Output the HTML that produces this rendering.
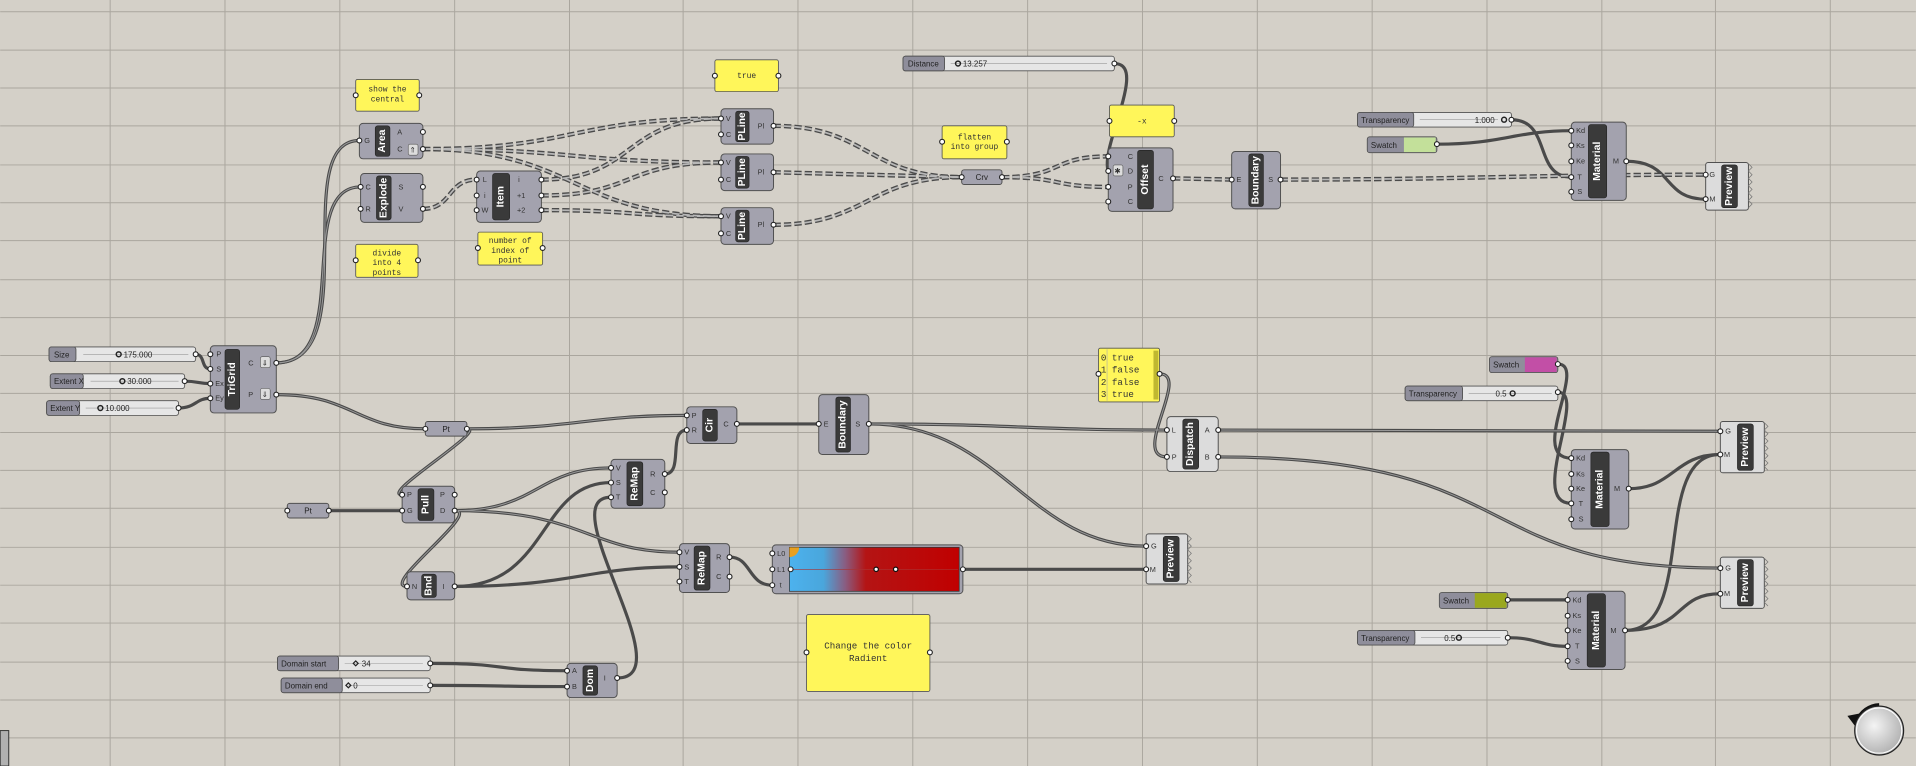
<!DOCTYPE html>
<html><head><meta charset="utf-8"><style>
html,body{margin:0;padding:0;background:#d4d0c8;overflow:hidden}
svg{display:block}
.c{fill:#a3a2ae;stroke:#505050;stroke-width:.8}
.l{fill:#dcdcdc;stroke:#505050;stroke-width:.8}
.b{fill:#3a3a3a;stroke:#222;stroke-width:.5}
.n{font-family:"Liberation Sans",sans-serif;font-weight:bold;font-size:8.5px;fill:#fff}
.p{font-family:"Liberation Sans",sans-serif;font-size:6px;fill:#333}
.s{font-family:"Liberation Sans",sans-serif;font-size:6.5px;fill:#222}
.m{font-family:"Liberation Mono",monospace;font-size:6.5px;fill:#333}
.y{fill:#fff65a;stroke:#555;stroke-width:.7}
.pt{fill:#fff;stroke:#222;stroke-width:.9}
.w{fill:none;stroke:#4a4a4a;stroke-width:2.6}
.wi{fill:none;stroke:#9a9a9a;stroke-width:.8}
.d{fill:none;stroke:#4a4a4a;stroke-width:3.6;stroke-dasharray:6 2.5}
.di{fill:none;stroke:#b8b8b8;stroke-width:1.4;stroke-dasharray:6 2.5}
.sl{fill:#8f8e9b;stroke:#505050;stroke-width:.7}
.sb{fill:#e6e6e6;stroke:#505050;stroke-width:.7}
.g{stroke:#aaa69e;stroke-width:.8}
</style></head><body>
<svg width="1916" height="766" viewBox="0 0 1568 627" xmlns="http://www.w3.org/2000/svg">
<defs>
<linearGradient id="gr" x1="0" x2="1" y1="0" y2="0">
<stop offset="0" stop-color="#4cb2ee"/><stop offset=".2" stop-color="#4aa6dc"/><stop offset=".33" stop-color="#8a5c80"/><stop offset=".45" stop-color="#b41414"/><stop offset="1" stop-color="#c00000"/>
</linearGradient>
<radialGradient id="nv" cx=".4" cy=".4" r=".7"><stop offset="0" stop-color="#f4f4f4"/><stop offset="1" stop-color="#a8a8a8"/></radialGradient>
<path id="w1" d="M160,290 C168,290 164,302 172,302"/>
<path id="w2" d="M151,312 C162,312 162,314 172,314"/>
<path id="w3" d="M146,334 C160,334 160,326 172,326"/>
<path id="w4" d="M226,297 C300,297 235,115 294,115"/>
<path id="w5" d="M226,297 C290,297 240,153 295,153"/>
<path id="w6" d="M226,323 C290,323 290,351 348,351"/>
<path id="w7" d="M382,351 C470,351 480,340 562,340"/>
<path id="w8" d="M382,351 C400,351 310,405 329,405"/>
<path id="w9" d="M269,418 L329,418"/>
<path id="w10" d="M372,418 C440,418 440,383 500,383"/>
<path id="w11" d="M372,418 C480,418 480,452 556,452"/>
<path id="w12" d="M372,418 C395,418 310,480 333,480"/>
<path id="w13" d="M372,480 C450,480 440,395 500,395"/>
<path id="w14" d="M372,480 C470,480 480,464 556,464"/>
<path id="w15" d="M544,388 C560,388 546,352 562,352"/>
<path id="w16" d="M505,555 C560,555 450,407 500,407"/>
<path id="w17" d="M352,543 C420,543 400,549 464,549"/>
<path id="w18" d="M352,561 C420,561 400,562 464,562"/>
<path id="w19" d="M597,456 C615,456 612,479 632,479"/>
<path id="w20" d="M603,347 L670,347"/>
<path id="w21" d="M711,347 C830,347 840,352 955,352"/>
<path id="w22" d="M711,347 C820,347 840,447 938,447"/>
<path id="w23" d="M788,466 L938,466"/>
<path id="w24" d="M949,306 C975,306 925,374 955,374"/>
<path id="w25" d="M997,352 L1408,353"/>
<path id="w26" d="M997,374 C1250,374 1200,465 1408,465"/>
<path id="w27" d="M1275,298 C1300,298 1250,375 1286,375"/>
<path id="w28" d="M1275,321 C1300,321 1250,412 1286,412"/>
<path id="w29" d="M1333,400 C1370,400 1370,372 1408,372"/>
<path id="w30" d="M1234,491 L1283,491"/>
<path id="w31" d="M1234,522 C1260,522 1260,529 1283,529"/>
<path id="w32" d="M1330,516 C1380,516 1370,486 1408,486"/>
<path id="w33" d="M1330,516 C1390,516 1350,372 1408,372"/>
<path id="w34" d="M1237,98 C1270,98 1255,145 1286,145"/>
<path id="w35" d="M1176,118 C1230,118 1240,107 1286,107"/>
<path id="w36" d="M1331,132 C1370,132 1360,163 1396,163"/>
<path id="w37" d="M912,52 C940,52 900,120 907,140"/>
<path id="d1" d="M346,122 C470,122 470,97 590,97"/>
<path id="d2" d="M346,122 C470,122 470,133 590,133"/>
<path id="d3" d="M346,122 C470,122 470,177 590,177"/>
<path id="d4" d="M346,171 C370,171 366,147 390,147"/>
<path id="d5" d="M443,147 C520,147 510,97 590,97"/>
<path id="d6" d="M443,160 C520,160 510,133 590,133"/>
<path id="d7" d="M443,172 C520,172 510,177 590,177"/>
<path id="d8" d="M633,103 C710,103 710,145 787,145"/>
<path id="d9" d="M633,141 L787,145"/>
<path id="d10" d="M633,184 C710,184 710,145 787,145"/>
<path id="d11" d="M820,145 C870,145 860,128 907,128"/>
<path id="d12" d="M820,145 C870,145 860,153 907,153"/>
<path id="d13" d="M960,146 L1008,147"/>
<path id="d14" d="M1048,147 C1200,147 1250,143 1396,143"/>
</defs>
<rect width="1568" height="627" fill="#d4d0c8"/>
<g class="g">
<line x1="90" y1="0" x2="90" y2="627"/><line x1="184" y1="0" x2="184" y2="627"/><line x1="278" y1="0" x2="278" y2="627"/><line x1="372" y1="0" x2="372" y2="627"/><line x1="466" y1="0" x2="466" y2="627"/><line x1="559" y1="0" x2="559" y2="627"/><line x1="653" y1="0" x2="653" y2="627"/><line x1="747" y1="0" x2="747" y2="627"/><line x1="841" y1="0" x2="841" y2="627"/><line x1="935" y1="0" x2="935" y2="627"/><line x1="1029" y1="0" x2="1029" y2="627"/><line x1="1123" y1="0" x2="1123" y2="627"/><line x1="1217" y1="0" x2="1217" y2="627"/><line x1="1311" y1="0" x2="1311" y2="627"/><line x1="1404" y1="0" x2="1404" y2="627"/><line x1="1498" y1="0" x2="1498" y2="627"/>
<line x1="0" y1="9.6" x2="1568" y2="9.6"/><line x1="0" y1="41" x2="1568" y2="41"/><line x1="0" y1="72" x2="1568" y2="72"/><line x1="0" y1="103" x2="1568" y2="103"/><line x1="0" y1="135" x2="1568" y2="135"/><line x1="0" y1="166" x2="1568" y2="166"/><line x1="0" y1="197" x2="1568" y2="197"/><line x1="0" y1="229" x2="1568" y2="229"/><line x1="0" y1="260" x2="1568" y2="260"/><line x1="0" y1="291" x2="1568" y2="291"/><line x1="0" y1="322" x2="1568" y2="322"/><line x1="0" y1="354" x2="1568" y2="354"/><line x1="0" y1="385" x2="1568" y2="385"/><line x1="0" y1="416" x2="1568" y2="416"/><line x1="0" y1="448" x2="1568" y2="448"/><line x1="0" y1="479" x2="1568" y2="479"/><line x1="0" y1="510" x2="1568" y2="510"/><line x1="0" y1="542" x2="1568" y2="542"/><line x1="0" y1="573" x2="1568" y2="573"/><line x1="0" y1="604" x2="1568" y2="604"/>
</g>

<g class="w"><use href="#w1"/><use href="#w2"/><use href="#w3"/><use href="#w4"/><use href="#w5"/><use href="#w6"/><use href="#w7"/><use href="#w8"/><use href="#w9"/><use href="#w10"/><use href="#w11"/><use href="#w12"/><use href="#w13"/><use href="#w14"/><use href="#w15"/><use href="#w16"/><use href="#w17"/><use href="#w18"/><use href="#w19"/><use href="#w20"/><use href="#w21"/><use href="#w22"/><use href="#w23"/><use href="#w24"/><use href="#w25"/><use href="#w26"/><use href="#w27"/><use href="#w28"/><use href="#w29"/><use href="#w30"/><use href="#w31"/><use href="#w32"/><use href="#w33"/><use href="#w34"/><use href="#w35"/><use href="#w36"/><use href="#w37"/></g>
<g class="wi"><use href="#w4"/><use href="#w5"/><use href="#w6"/><use href="#w7"/><use href="#w8"/><use href="#w10"/><use href="#w11"/><use href="#w12"/><use href="#w21"/><use href="#w22"/><use href="#w24"/><use href="#w25"/><use href="#w26"/></g>
<g class="d"><use href="#d1"/><use href="#d2"/><use href="#d3"/><use href="#d4"/><use href="#d5"/><use href="#d6"/><use href="#d7"/><use href="#d8"/><use href="#d9"/><use href="#d10"/><use href="#d11"/><use href="#d12"/><use href="#d13"/><use href="#d14"/></g>
<g class="di"><use href="#d1"/><use href="#d2"/><use href="#d3"/><use href="#d4"/><use href="#d5"/><use href="#d6"/><use href="#d7"/><use href="#d8"/><use href="#d9"/><use href="#d10"/><use href="#d11"/><use href="#d12"/><use href="#d13"/><use href="#d14"/></g>

<!-- sliders -->
<g>
<rect class="sb" x="40" y="284" width="120" height="12" rx="2"/><rect class="sl" x="40" y="284" width="22" height="12" rx="2"/><text class="s" x="44" y="292.5">Size</text>
<line x1="68" y1="290" x2="154" y2="290" stroke="#999" stroke-width=".5"/><circle cx="97" cy="290" r="2" fill="none" stroke="#222" stroke-width="1.2"/><text class="s" x="101" y="292.5">175.000</text>
<rect class="sb" x="41" y="306" width="110" height="12" rx="2"/><rect class="sl" x="41" y="306" width="27" height="12" rx="2"/><text class="s" x="44" y="314.5">Extent X</text>
<line x1="74" y1="312" x2="146" y2="312" stroke="#999" stroke-width=".5"/><circle cx="100" cy="312" r="2" fill="none" stroke="#222" stroke-width="1.2"/><text class="s" x="104" y="314.5">30.000</text>
<rect class="sb" x="38" y="328" width="108" height="12" rx="2"/><rect class="sl" x="38" y="328" width="27" height="12" rx="2"/><text class="s" x="41" y="336.5">Extent Y</text>
<line x1="70" y1="334" x2="142" y2="334" stroke="#999" stroke-width=".5"/><circle cx="82" cy="334" r="2" fill="none" stroke="#222" stroke-width="1.2"/><text class="s" x="86" y="336.5">10.000</text>

<rect class="sb" x="739" y="46" width="173" height="12" rx="2"/><rect class="sl" x="739" y="46" width="34" height="12" rx="2"/><text class="s" x="743" y="54.5">Distance</text>
<line x1="778" y1="52" x2="906" y2="52" stroke="#999" stroke-width=".5"/><circle cx="784" cy="52" r="2" fill="none" stroke="#222" stroke-width="1.2"/><text class="s" x="788" y="54.5">13.257</text>

<rect class="sb" x="1111" y="92" width="126" height="12" rx="2"/><rect class="sl" x="1111" y="92" width="46" height="12" rx="2"/><text class="s" x="1114" y="100.5">Transparency</text>
<line x1="1162" y1="98" x2="1226" y2="98" stroke="#999" stroke-width=".5"/><text class="s" x="1207" y="100.5">1.000</text><circle cx="1231" cy="98" r="2" fill="none" stroke="#222" stroke-width="1.2"/>

<rect class="sb" x="1150" y="316" width="125" height="12" rx="2"/><rect class="sl" x="1150" y="316" width="47" height="12" rx="2"/><text class="s" x="1153" y="324.5">Transparency</text>
<line x1="1202" y1="322" x2="1270" y2="322" stroke="#999" stroke-width=".5"/><text class="s" x="1224" y="324.5">0.5</text><circle cx="1238" cy="322" r="2" fill="none" stroke="#222" stroke-width="1.2"/>

<rect class="sb" x="1111" y="516" width="123" height="12" rx="2"/><rect class="sl" x="1111" y="516" width="47" height="12" rx="2"/><text class="s" x="1114" y="524.5">Transparency</text>
<line x1="1163" y1="522" x2="1228" y2="522" stroke="#999" stroke-width=".5"/><text class="s" x="1182" y="524.5">0.5</text><circle cx="1194" cy="522" r="2" fill="none" stroke="#222" stroke-width="1.2"/>

<rect class="sb" x="227" y="537" width="125" height="12" rx="2"/><rect class="sl" x="227" y="537" width="50" height="12" rx="2"/><text class="s" x="230" y="545.5">Domain start</text>
<line x1="282" y1="543" x2="346" y2="543" stroke="#999" stroke-width=".5"/><path d="M291,541 L293,543 L291,545 L289,543Z" fill="none" stroke="#222"/><text class="s" x="296" y="545.5">34</text>
<rect class="sb" x="230" y="555" width="122" height="12" rx="2"/><rect class="sl" x="230" y="555" width="50" height="12" rx="2"/><text class="s" x="233" y="563.5">Domain end</text>
<line x1="285" y1="561" x2="346" y2="561" stroke="#999" stroke-width=".5"/><path d="M285,559 L287,561 L285,563 L283,561Z" fill="none" stroke="#222"/><text class="s" x="289" y="563.5">0</text>

<rect class="sl" x="1119" y="112" width="57" height="13" rx="2"/><rect x="1149" y="112.5" width="26" height="12" fill="#c3e09a"/><text class="s" x="1122" y="121">Swatch</text>
<rect class="sl" x="1219" y="292" width="56" height="13" rx="2"/><rect x="1248" y="292.5" width="26" height="12" fill="#c24fa6"/><text class="s" x="1222" y="301">Swatch</text>
<rect class="sl" x="1178" y="485" width="56" height="13" rx="2"/><rect x="1207" y="485.5" width="26" height="12" fill="#9aa81e"/><text class="s" x="1181" y="494">Swatch</text>
</g>

<!-- notes -->
<g>
<rect class="y" x="291" y="65" width="52" height="26" rx="1.5"/><text class="m" text-anchor="middle" x="317" y="75">show the</text><text class="m" text-anchor="middle" x="317" y="83">central</text>
<rect class="y" x="291" y="200" width="51" height="27" rx="1.5"/><text class="m" text-anchor="middle" x="316.5" y="209">divide</text><text class="m" text-anchor="middle" x="316.5" y="217">into 4</text><text class="m" text-anchor="middle" x="316.5" y="225">points</text>
<rect class="y" x="391" y="190" width="53" height="27" rx="1.5"/><text class="m" text-anchor="middle" x="417.5" y="199">number of</text><text class="m" text-anchor="middle" x="417.5" y="207">index of</text><text class="m" text-anchor="middle" x="417.5" y="215">point</text>
<rect class="y" x="585" y="49" width="52" height="26" rx="1.5"/><text class="m" text-anchor="middle" x="611" y="64">true</text>
<rect class="y" x="771" y="103" width="53" height="27" rx="1.5"/><text class="m" text-anchor="middle" x="797.5" y="114">flatten</text><text class="m" text-anchor="middle" x="797.5" y="122">into group</text>
<rect class="y" x="908" y="86" width="53" height="26" rx="1.5"/><text class="m" text-anchor="middle" x="934.5" y="101">-x</text>
<rect class="y" x="660" y="503" width="101" height="63" rx="1.5"/><text class="m" style="font-size:7.5px" text-anchor="middle" x="710.5" y="531">Change the color</text><text class="m" style="font-size:7.5px" text-anchor="middle" x="710.5" y="541">Radient</text>
<rect class="y" x="899" y="285" width="50" height="44" rx="1.5"/><rect x="944" y="287" width="4" height="40" fill="#c0b830"/><line x1="906" y1="286" x2="906" y2="328" stroke="#aaa" stroke-width=".5"/>
<text class="m" style="font-size:7.5px" x="901" y="295">0 true</text><text class="m" style="font-size:7.5px" x="901" y="305">1 false</text><text class="m" style="font-size:7.5px" x="901" y="315">2 false</text><text class="m" style="font-size:7.5px" x="901" y="325">3 true</text>
</g>

<g>
<rect class="c" x="787" y="139" width="33" height="12" rx="2"/><text class="s" x="803.5" y="147.5" text-anchor="middle">Crv</text>
<rect class="c" x="348" y="345" width="34" height="12" rx="2"/><text class="s" x="365" y="353.5" text-anchor="middle">Pt</text>
<rect class="c" x="235" y="412" width="34" height="12" rx="2"/><text class="s" x="252" y="420.5" text-anchor="middle">Pt</text>
</g>

<g>
<rect class="c" x="172" y="283" width="54" height="55" rx="3"/><rect class="b" x="184" y="286" width="12" height="49" rx="2"/><text class="n" transform="translate(190,310.5) rotate(-90)" text-anchor="middle" dominant-baseline="central">TriGrid</text>
<text class="p" x="177" y="292">P</text><text class="p" x="177" y="304">S</text><text class="p" x="176" y="316">Ex</text><text class="p" x="176" y="328">Ey</text>
<text class="p" x="203" y="299">C</text><text class="p" x="203" y="325">P</text>
<rect x="213" y="292" width="8" height="9" rx="1.5" fill="#ddd" stroke="#555" stroke-width=".5"/><text class="p" x="214" y="299">⇓</text>
<rect x="213" y="318" width="8" height="9" rx="1.5" fill="#ddd" stroke="#555" stroke-width=".5"/><text class="p" x="214" y="325">⇓</text>
<rect class="c" x="294" y="101" width="52" height="29" rx="3"/><rect class="b" x="307" y="103" width="12" height="25" rx="2"/><text class="n" transform="translate(313,115.5) rotate(-90)" text-anchor="middle" dominant-baseline="central">Area</text>
<text class="p" x="298" y="117">G</text><text class="p" x="325" y="110">A</text><text class="p" x="325" y="124">C</text><rect x="334" y="118" width="8" height="9" rx="1.5" fill="#ddd" stroke="#555" stroke-width=".5"/><text class="p" x="335" y="125">⇑</text>
<rect class="c" x="295" y="142" width="51" height="40" rx="3"/><rect class="b" x="308" y="144" width="12" height="36" rx="2"/><text class="n" transform="translate(314,162) rotate(-90)" text-anchor="middle" dominant-baseline="central">Explode</text>
<text class="p" x="299" y="155">C</text><text class="p" x="299" y="173">R</text><text class="p" x="326" y="155">S</text><text class="p" x="326" y="173">V</text>
<rect class="c" x="390" y="140" width="53" height="42" rx="3"/><rect class="b" x="403" y="142" width="14" height="38" rx="2"/><text class="n" transform="translate(410,161) rotate(-90)" text-anchor="middle" dominant-baseline="central">Item</text>
<text class="p" x="395" y="149">L</text><text class="p" x="396" y="162">i</text><text class="p" x="394" y="174">W</text><text class="p" x="424" y="149">i</text><text class="p" x="423" y="162">+1</text><text class="p" x="423" y="174">+2</text>
<rect class="c" x="590" y="89" width="43" height="29" rx="3"/><rect class="b" x="602" y="91" width="11" height="25" rx="2"/><text class="n" transform="translate(607.5,103.5) rotate(-90)" text-anchor="middle" dominant-baseline="central">PLine</text>
<text class="p" x="594" y="99">V</text><text class="p" x="594" y="112">C</text><text class="p" x="620" y="105">Pl</text>
<rect class="c" x="590" y="126" width="43" height="30" rx="3"/><rect class="b" x="602" y="128" width="11" height="26" rx="2"/><text class="n" transform="translate(607.5,141) rotate(-90)" text-anchor="middle" dominant-baseline="central">PLine</text>
<text class="p" x="594" y="135">V</text><text class="p" x="594" y="149">C</text><text class="p" x="620" y="143">Pl</text>
<rect class="c" x="590" y="170" width="43" height="30" rx="3"/><rect class="b" x="602" y="172" width="11" height="26" rx="2"/><text class="n" transform="translate(607.5,185) rotate(-90)" text-anchor="middle" dominant-baseline="central">PLine</text>
<text class="p" x="594" y="179">V</text><text class="p" x="594" y="193">C</text><text class="p" x="620" y="186">Pl</text>
<rect class="c" x="907" y="121" width="53" height="52" rx="3"/><rect class="b" x="931" y="123" width="13" height="48" rx="2"/><text class="n" transform="translate(937.5,147) rotate(-90)" text-anchor="middle" dominant-baseline="central">Offset</text>
<text class="p" x="923" y="130">C</text><text class="p" x="923" y="142">D</text><text class="p" x="923" y="155">P</text><text class="p" x="923" y="167">C</text><text class="p" x="948" y="148">C</text>
<rect x="911" y="135" width="8" height="9" rx="1.5" fill="#ddd" stroke="#555" stroke-width=".5"/><text class="p" x="912" y="142">✱</text>
<rect class="c" x="1008" y="124" width="40" height="47" rx="3"/><rect class="b" x="1022" y="126" width="12" height="43" rx="2"/><text class="n" transform="translate(1028,147.5) rotate(-90)" text-anchor="middle" dominant-baseline="central">Boundary</text>
<text class="p" x="1012" y="149">E</text><text class="p" x="1038" y="149">S</text>
<rect class="c" x="1286" y="100" width="45" height="64" rx="3"/><rect class="b" x="1300" y="102" width="15" height="60" rx="2"/><text class="n" transform="translate(1307.5,132) rotate(-90)" text-anchor="middle" dominant-baseline="central">Material</text>
<text class="p" x="1290" y="109">Kd</text><text class="p" x="1290" y="121">Ks</text><text class="p" x="1290" y="134">Ke</text><text class="p" x="1291" y="147">T</text><text class="p" x="1291" y="159">S</text><text class="p" x="1320" y="134">M</text>
<rect class="l" x="1396" y="133" width="35" height="39" rx="2"/><rect class="b" x="1409" y="135" width="13" height="35" rx="2"/><text class="n" transform="translate(1415.5,152.5) rotate(-90)" text-anchor="middle" dominant-baseline="central">Preview</text>
<polyline points="1431,134 1434,137 1431,140 1434,143 1431,146 1434,149 1431,152 1434,155 1431,158 1434,161 1431,164 1434,167 1431,170" fill="none" stroke="#777" stroke-width=".6"/>
<text class="p" x="1399" y="145">G</text><text class="p" x="1399" y="165">M</text>
<rect class="c" x="562" y="333" width="41" height="30" rx="3"/><rect class="b" x="575" y="335" width="12" height="26" rx="2"/><text class="n" transform="translate(581,348) rotate(-90)" text-anchor="middle" dominant-baseline="central">Cir</text>
<text class="p" x="566" y="342">P</text><text class="p" x="566" y="354">R</text><text class="p" x="592" y="349">C</text>
<rect class="c" x="670" y="323" width="41" height="49" rx="3"/><rect class="b" x="684" y="325" width="12" height="45" rx="2"/><text class="n" transform="translate(690,347.5) rotate(-90)" text-anchor="middle" dominant-baseline="central">Boundary</text>
<text class="p" x="674" y="349">E</text><text class="p" x="700" y="349">S</text>
<rect class="c" x="329" y="398" width="43" height="30" rx="3"/><rect class="b" x="342" y="400" width="13" height="26" rx="2"/><text class="n" transform="translate(348.5,413) rotate(-90)" text-anchor="middle" dominant-baseline="central">Pull</text>
<text class="p" x="333" y="407">P</text><text class="p" x="333" y="420">G</text><text class="p" x="360" y="407">P</text><text class="p" x="360" y="420">D</text>
<rect class="c" x="500" y="376" width="44" height="40" rx="3"/><rect class="b" x="513" y="378" width="13" height="36" rx="2"/><text class="n" transform="translate(519.5,396) rotate(-90)" text-anchor="middle" dominant-baseline="central">ReMap</text>
<text class="p" x="504" y="385">V</text><text class="p" x="504" y="397">S</text><text class="p" x="504" y="409">T</text><text class="p" x="532" y="390">R</text><text class="p" x="532" y="405">C</text>
<rect class="c" x="333" y="468" width="39" height="23" rx="3"/><rect class="b" x="345" y="470" width="12" height="19" rx="2"/><text class="n" transform="translate(351,479.5) rotate(-90)" text-anchor="middle" dominant-baseline="central">Bnd</text>
<text class="p" x="337" y="482">N</text><text class="p" x="362" y="482">I</text>
<rect class="c" x="556" y="445" width="41" height="40" rx="3"/><rect class="b" x="568" y="447" width="13" height="36" rx="2"/><text class="n" transform="translate(574.5,465) rotate(-90)" text-anchor="middle" dominant-baseline="central">ReMap</text>
<text class="p" x="560" y="454">V</text><text class="p" x="560" y="466">S</text><text class="p" x="560" y="478">T</text><text class="p" x="586" y="458">R</text><text class="p" x="586" y="474">C</text>
<rect class="c" x="464" y="543" width="41" height="28" rx="3"/><rect class="b" x="477" y="545" width="12" height="24" rx="2"/><text class="n" transform="translate(483,557) rotate(-90)" text-anchor="middle" dominant-baseline="central">Dom</text>
<text class="p" x="468" y="551">A</text><text class="p" x="468" y="564">B</text><text class="p" x="494" y="557">I</text>
<rect class="c" x="632" y="446" width="156" height="40" rx="3"/><rect x="646" y="448" width="139" height="36" fill="url(#gr)" stroke="#333" stroke-width=".6"/>
<line x1="647" y1="466" x2="784" y2="466" stroke="#a33" stroke-width=".6"/><path d="M646,448 L654,448 A8,8 0 0 1 646,456Z" fill="#e8a020"/>
<circle class="pt" cx="647" cy="466" r="2"/><circle cx="717" cy="466" r="1.8" fill="#fff" stroke="#111"/><circle cx="733" cy="466" r="1.8" fill="#fff" stroke="#111"/>
<text class="p" x="636" y="455">L0</text><text class="p" x="636" y="468">L1</text><text class="p" x="638" y="481">t</text>
<rect class="l" x="938" y="437" width="34" height="41" rx="2"/><rect class="b" x="952" y="439" width="13" height="37" rx="2"/><text class="n" transform="translate(958.5,457.5) rotate(-90)" text-anchor="middle" dominant-baseline="central">Preview</text>
<polyline points="972,438 975,441 972,444 975,447 972,450 975,453 972,456 975,459 972,462 975,465 972,468 975,471 972,474 975,477" fill="none" stroke="#777" stroke-width=".6"/>
<text class="p" x="942" y="449">G</text><text class="p" x="941" y="468">M</text>
<rect class="l" x="955" y="341" width="42" height="45" rx="3"/><rect class="b" x="968" y="343" width="13" height="41" rx="2"/><text class="n" transform="translate(974.5,363.5) rotate(-90)" text-anchor="middle" dominant-baseline="central">Dispatch</text>
<text class="p" x="959" y="354">L</text><text class="p" x="959" y="376">P</text><text class="p" x="986" y="354">A</text><text class="p" x="986" y="376">B</text>
<rect class="c" x="1286" y="368" width="47" height="65" rx="3"/><rect class="b" x="1302" y="370" width="15" height="61" rx="2"/><text class="n" transform="translate(1309.5,400.5) rotate(-90)" text-anchor="middle" dominant-baseline="central">Material</text>
<text class="p" x="1290" y="377">Kd</text><text class="p" x="1290" y="390">Ks</text><text class="p" x="1290" y="402">Ke</text><text class="p" x="1292" y="414">T</text><text class="p" x="1292" y="427">S</text><text class="p" x="1321" y="402">M</text>
<rect class="c" x="1283" y="484" width="47" height="64" rx="3"/><rect class="b" x="1299" y="486" width="15" height="60" rx="2"/><text class="n" transform="translate(1306.5,516) rotate(-90)" text-anchor="middle" dominant-baseline="central">Material</text>
<text class="p" x="1287" y="493">Kd</text><text class="p" x="1287" y="506">Ks</text><text class="p" x="1287" y="518">Ke</text><text class="p" x="1289" y="531">T</text><text class="p" x="1289" y="543">S</text><text class="p" x="1318" y="518">M</text>
<rect class="l" x="1408" y="345" width="36" height="42" rx="2"/><rect class="b" x="1422" y="347" width="13" height="38" rx="2"/><text class="n" transform="translate(1428.5,366) rotate(-90)" text-anchor="middle" dominant-baseline="central">Preview</text>
<polyline points="1444,346 1447,349 1444,352 1447,355 1444,358 1447,361 1444,364 1447,367 1444,370 1447,373 1444,376 1447,379 1444,382 1447,385" fill="none" stroke="#777" stroke-width=".6"/>
<text class="p" x="1412" y="355">G</text><text class="p" x="1411" y="374">M</text>
<rect class="l" x="1408" y="456" width="36" height="42" rx="2"/><rect class="b" x="1422" y="458" width="13" height="38" rx="2"/><text class="n" transform="translate(1428.5,477) rotate(-90)" text-anchor="middle" dominant-baseline="central">Preview</text>
<polyline points="1444,457 1447,460 1444,463 1447,466 1444,469 1447,472 1444,475 1447,478 1444,481 1447,484 1444,487 1447,490 1444,493 1447,496" fill="none" stroke="#777" stroke-width=".6"/>
<text class="p" x="1412" y="467">G</text><text class="p" x="1411" y="488">M</text>
</g>

<g class="pt">
<circle cx="160" cy="290" r="2"/><circle cx="151" cy="312" r="2"/><circle cx="146" cy="334" r="2"/>
<circle cx="172" cy="290" r="2"/><circle cx="172" cy="302" r="2"/><circle cx="172" cy="314" r="2"/><circle cx="172" cy="326" r="2"/><circle cx="226" cy="297" r="2"/><circle cx="226" cy="323" r="2"/>
<circle cx="294" cy="115" r="2"/><circle cx="346" cy="108" r="2"/><circle cx="346" cy="122" r="2"/>
<circle cx="295" cy="153" r="2"/><circle cx="295" cy="171" r="2"/><circle cx="346" cy="153" r="2"/><circle cx="346" cy="171" r="2"/>
<circle cx="390" cy="147" r="2"/><circle cx="390" cy="160" r="2"/><circle cx="390" cy="172" r="2"/><circle cx="443" cy="147" r="2"/><circle cx="443" cy="160" r="2"/><circle cx="443" cy="172" r="2"/>
<circle cx="590" cy="97" r="2"/><circle cx="590" cy="110" r="2"/><circle cx="633" cy="103" r="2"/>
<circle cx="590" cy="133" r="2"/><circle cx="590" cy="147" r="2"/><circle cx="633" cy="141" r="2"/>
<circle cx="590" cy="177" r="2"/><circle cx="590" cy="191" r="2"/><circle cx="633" cy="184" r="2"/>
<circle cx="787" cy="145" r="2"/><circle cx="820" cy="145" r="2"/><circle cx="912" cy="52" r="2"/>
<circle cx="907" cy="128" r="2"/><circle cx="907" cy="140" r="2"/><circle cx="907" cy="153" r="2"/><circle cx="907" cy="165" r="2"/><circle cx="960" cy="146" r="2"/>
<circle cx="1008" cy="147" r="2"/><circle cx="1048" cy="147" r="2"/>
<circle cx="1237" cy="98" r="2"/><circle cx="1176" cy="118" r="2"/>
<circle cx="1286" cy="107" r="2"/><circle cx="1286" cy="119" r="2"/><circle cx="1286" cy="132" r="2"/><circle cx="1286" cy="145" r="2"/><circle cx="1286" cy="157" r="2"/><circle cx="1331" cy="132" r="2"/>
<circle cx="1396" cy="143" r="2"/><circle cx="1396" cy="163" r="2"/>
<circle cx="291" cy="78" r="2"/><circle cx="343" cy="78" r="2"/><circle cx="291" cy="213" r="2"/><circle cx="342" cy="213" r="2"/><circle cx="391" cy="203" r="2"/><circle cx="444" cy="203" r="2"/>
<circle cx="585" cy="62" r="2"/><circle cx="637" cy="62" r="2"/><circle cx="771" cy="116" r="2"/><circle cx="824" cy="116" r="2"/><circle cx="908" cy="99" r="2"/><circle cx="961" cy="99" r="2"/>
<circle cx="660" cy="534" r="2"/><circle cx="761" cy="534" r="2"/><circle cx="899" cy="306" r="2"/><circle cx="949" cy="306" r="2"/>
<circle cx="348" cy="351" r="2"/><circle cx="382" cy="351" r="2"/><circle cx="235" cy="418" r="2"/><circle cx="269" cy="418" r="2"/>
<circle cx="329" cy="405" r="2"/><circle cx="329" cy="418" r="2"/><circle cx="372" cy="405" r="2"/><circle cx="372" cy="418" r="2"/>
<circle cx="500" cy="383" r="2"/><circle cx="500" cy="395" r="2"/><circle cx="500" cy="407" r="2"/><circle cx="544" cy="388" r="2"/><circle cx="544" cy="403" r="2"/>
<circle cx="333" cy="480" r="2"/><circle cx="372" cy="480" r="2"/>
<circle cx="556" cy="452" r="2"/><circle cx="556" cy="464" r="2"/><circle cx="556" cy="476" r="2"/><circle cx="597" cy="456" r="2"/><circle cx="597" cy="472" r="2"/>
<circle cx="352" cy="543" r="2"/><circle cx="352" cy="561" r="2"/><circle cx="464" cy="549" r="2"/><circle cx="464" cy="562" r="2"/><circle cx="505" cy="555" r="2"/>
<circle cx="632" cy="453" r="2"/><circle cx="632" cy="466" r="2"/><circle cx="632" cy="479" r="2"/><circle cx="788" cy="466" r="2"/>
<circle cx="562" cy="340" r="2"/><circle cx="562" cy="352" r="2"/><circle cx="603" cy="347" r="2"/><circle cx="670" cy="347" r="2"/><circle cx="711" cy="347" r="2"/>
<circle cx="938" cy="447" r="2"/><circle cx="938" cy="466" r="2"/>
<circle cx="955" cy="352" r="2"/><circle cx="955" cy="374" r="2"/><circle cx="997" cy="352" r="2"/><circle cx="997" cy="374" r="2"/>
<circle cx="1275" cy="298" r="2"/><circle cx="1275" cy="321" r="2"/>
<circle cx="1286" cy="375" r="2"/><circle cx="1286" cy="388" r="2"/><circle cx="1286" cy="400" r="2"/><circle cx="1286" cy="412" r="2"/><circle cx="1286" cy="425" r="2"/><circle cx="1333" cy="400" r="2"/>
<circle cx="1408" cy="353" r="2"/><circle cx="1408" cy="372" r="2"/><circle cx="1408" cy="465" r="2"/><circle cx="1408" cy="486" r="2"/>
<circle cx="1234" cy="491" r="2"/><circle cx="1234" cy="522" r="2"/>
<circle cx="1283" cy="491" r="2"/><circle cx="1283" cy="504" r="2"/><circle cx="1283" cy="516" r="2"/><circle cx="1283" cy="529" r="2"/><circle cx="1283" cy="541" r="2"/><circle cx="1330" cy="516" r="2"/>
</g>

<rect x="0" y="598" width="7" height="29" fill="#b0b0b0" stroke="#333" stroke-width=".8"/>
<path d="M1520,590 A20,20 0 0 1 1538,577" fill="none" stroke="#111" stroke-width="3"/><path d="M1512,586 L1522,584 L1518,594Z" fill="#111"/>
<circle cx="1538" cy="598" r="20" fill="url(#nv)" stroke="#222" stroke-width="1"/><circle cx="1538" cy="598" r="18.5" fill="none" stroke="#fff" stroke-width=".8"/>
</svg>
</body></html>
